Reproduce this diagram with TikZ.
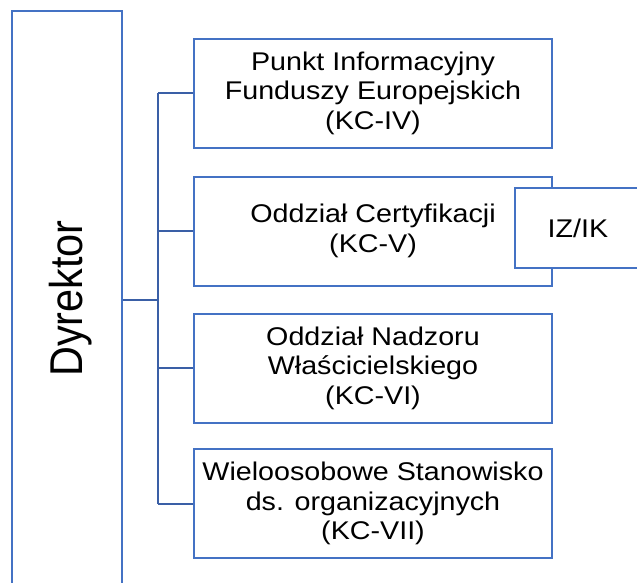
\documentclass[tikz,border=0pt]{standalone}
\usepackage{fontspec}
\setmainfont{Liberation Sans}[FakeStretch=1.12]
\newfontfamily\dirfont{Liberation Sans}[FakeStretch=0.9]
\definecolor{boxblue}{HTML}{4472C4}
\definecolor{linkblue}{HTML}{3A5FA6}
\begin{document}
\begin{tikzpicture}[x=1pt,y=-1pt,
  unitbox/.style={draw=boxblue, line width=2pt, fill=white, minimum width=358pt,
    minimum height=109pt, align=center, inner sep=0pt,
    font=\fontsize{25.6}{29.5}\selectfont},
  link/.style={draw=linkblue, line width=2pt},
  dirlink/.style={draw=linkblue, line width=2.6pt}]
\useasboundingbox (0,0) rectangle (637,582);
\clip (0,0) rectangle (637,582);
\fill[white] (0,0) rectangle (637,582);
% director box
\node[draw=boxblue, line width=2pt, minimum width=110pt, minimum height=589pt, inner sep=0pt] (dir) at (67,305.5) {};
\node[rotate=90, anchor=base, inner sep=0pt, font=\dirfont\fontsize{46}{50}\selectfont] (dirlabel) at (82,298.5) {Dyrektor};
% units
\node[unitbox] (b1) at (373,93) {Punkt Informacyjny\\Funduszy Europejskich\\(KC-IV)};
\node[unitbox] (b2) at (373,231) {Oddział Certyfikacji\\(KC-V)};
\node[unitbox] (b3) at (373,368) {Oddział Nadzoru\\Właścicielskiego\\(KC-VI)};
\node[unitbox] (b4) at (373,503.5) {Wieloosobowe Stanowisko\\ds. organizacyjnych\\(KC-VII)};
\node[draw=boxblue, line width=2pt, fill=white, minimum width=126pt, minimum height=80pt, inner sep=0pt,
  font=\fontsize{25.6}{29.5}\selectfont] (iz) at (578,228) {\raisebox{-5pt}{IZ/IK}};
% connectors
\coordinate (t1) at (158,93);
\coordinate (t4) at (158,503.5);
\coordinate (tc) at (158,300);
\draw[link] (t1) -- (t4);
\draw[link] (t1) -- (b1.west);
\draw[link] (b2.west -| t1) -- (b2.west);
\draw[link] (b3.west -| t1) -- (b3.west);
\draw[link] (t4) -- (b4.west);
\draw[dirlink] (dir.east |- tc) -- (tc);
\end{tikzpicture}
\end{document}
